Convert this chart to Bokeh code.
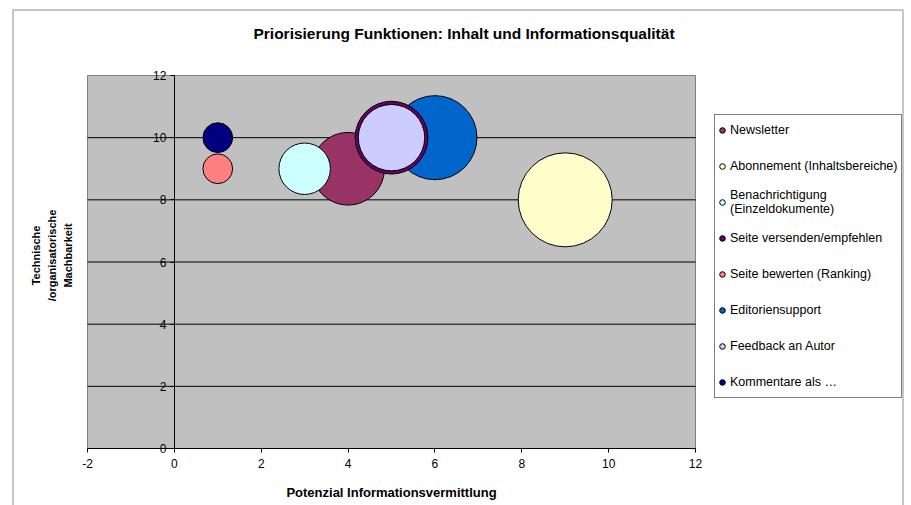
import math
from bokeh.plotting import figure
from bokeh.models import FixedTicker, Legend, LegendItem, Label, BoxAnnotation, Range1d
from bokeh.embed import file_html
from bokeh.resources import INLINE

# ---- data ----
series_names = [
    "Newsletter",
    "Abonnement (Inhaltsbereiche)",
    "Benachrichtigung\n(Einzeldokumente)",
    "Seite versenden/empfehlen",
    "Seite bewerten (Ranking)",
    "Editoriensupport",
    "Feedback an Autor",
    "Kommentare als …",
]
x_vals = [4, 9, 3, 5, 1, 6, 5, 1]
y_vals = [9, 8, 9, 10, 9, 10, 10, 10]
bubble_sizes = [6, 10, 3, 6, 1, 8, 5, 1]
colors = ["#993366", "#FFFFCC", "#CCFFFF", "#660066", "#FF8080", "#0066CC", "#CCCCFF", "#000080"]
x_ticks = [-2, 0, 2, 4, 6, 8, 10, 12]
y_ticks = [0, 2, 4, 6, 8, 10, 12]

title_text = "Priorisierung Funktionen: Inhalt und Informationsqualität"
x_title = "Potenzial Informationsvermittlung"
y_title_lines = ["Technische", "/organisatorische", "Machbarkeit"]

FONT = "Liberation Sans"
MAX_D = 94  # px diameter of the largest bubble

# ---- layout (pixels) ----
W, H = 906, 505
PA_L, PA_R, PA_T, PA_B = 87, 695, 75, 448   # plot area in canvas pixels

xmin, xmax = x_ticks[0], x_ticks[-1]
ymin, ymax = y_ticks[0], y_ticks[-1]
ppx = (PA_R - PA_L) / (xmax - xmin)
ppy = (PA_B - PA_T) / (ymax - ymin)
x_range = Range1d(xmin - PA_L / ppx, xmax + (W - PA_R) / ppx)
y_range = Range1d(ymin - (H - PA_B) / ppy, ymax + PA_T / ppy)

p = figure(width=W, height=H, x_range=x_range, y_range=y_range,
           output_backend="svg", toolbar_location=None,
           min_border=0, min_border_left=0, min_border_right=0,
           min_border_top=0, min_border_bottom=0)
p.background_fill_color = "white"
p.border_fill_color = "white"
p.outline_line_color = None
p.xgrid.visible = False
p.ygrid.visible = False

# plot area background
p.quad(left=[xmin], right=[xmax], bottom=[ymin], top=[ymax],
       fill_color="#C0C0C0", line_color="#808080", line_width=1)

# horizontal gridlines
grid_y = [t for t in y_ticks if ymin < t < ymax]
p.segment(x0=[xmin] * len(grid_y), x1=[xmax] * len(grid_y), y0=grid_y, y1=grid_y,
          line_color="black", line_width=1)

# axes, fixed inside the frame
for ax in (p.xaxis, p.yaxis):
    ax.fixed_location = 0
    ax.axis_line_color = "black"
    ax.major_tick_line_color = "black"
    ax.major_tick_out = 4
    ax.major_tick_in = 0
    ax.minor_tick_line_color = None
    ax.major_label_text_font = FONT
    ax.major_label_text_font_size = "12px"
    ax.major_label_text_color = "black"
p.xaxis.ticker = FixedTicker(ticks=x_ticks)
p.yaxis.ticker = FixedTicker(ticks=y_ticks)
p.xaxis.major_label_overrides = {t: str(t) for t in x_ticks}
p.yaxis.major_label_overrides = {t: str(t) for t in y_ticks}
p.xaxis.bounds = (xmin, xmax)
p.yaxis.bounds = (ymin, ymax)
p.xaxis.major_label_standoff = 6
p.yaxis.major_label_standoff = 4

# bubbles (larger drawn first)
max_size = max(bubble_sizes)
rends = {}
for i in sorted(range(len(series_names)), key=lambda k: -bubble_sizes[k]):
    d = MAX_D * math.sqrt(bubble_sizes[i] / max_size)
    rends[i] = p.scatter(x=[x_vals[i]], y=[y_vals[i]], size=d, marker="circle",
                         fill_color=colors[i], line_color="black", line_width=1)

# legend
items = [LegendItem(label=series_names[i], renderers=[rends[i]]) for i in range(len(series_names))]
legend = Legend(items=items, location=(714, H - 398), orientation="vertical")
legend.label_text_font = FONT
legend.label_text_font_size = "12.5px"
legend.label_text_color = "black"
legend.glyph_width = 14
legend.glyph_height = 30
legend.label_height = 30
legend.label_width = 171
legend.spacing = 6
legend.padding = 0
legend.margin = 0
legend.label_standoff = 1
legend.border_line_color = "black"
legend.border_line_width = 1
legend.background_fill_color = "white"
legend.background_fill_alpha = 1
p.add_layout(legend)

# texts
p.add_layout(Label(x=463.5, y=H - 33, x_units="screen", y_units="screen", text=title_text,
                   text_font=FONT, text_font_size="15.5px", text_font_style="bold",
                   text_align="center", text_baseline="middle", text_color="black"))
p.add_layout(Label(x=391, y=H - 492, x_units="screen", y_units="screen", text=x_title,
                   text_font=FONT, text_font_size="13px", text_font_style="bold",
                   text_align="center", text_baseline="middle", text_color="black"))
for line_text, lx in zip(y_title_lines, [35, 51, 67]):
    p.add_layout(Label(x=lx, y=H - 255, x_units="screen", y_units="screen", text=line_text,
                       angle=math.pi / 2,
                       text_font=FONT, text_font_size="11px", text_font_style="bold",
                       text_align="center", text_baseline="middle", text_color="black"))

# outer chart frame
p.add_layout(BoxAnnotation(left=12.5, right=902.5, top=H - 9.5, bottom=-20,
                           left_units="screen", right_units="screen",
                           top_units="screen", bottom_units="screen",
                           fill_alpha=0, line_color="black", line_width=1.5))

open("out.html", "w").write(file_html(p, INLINE))
